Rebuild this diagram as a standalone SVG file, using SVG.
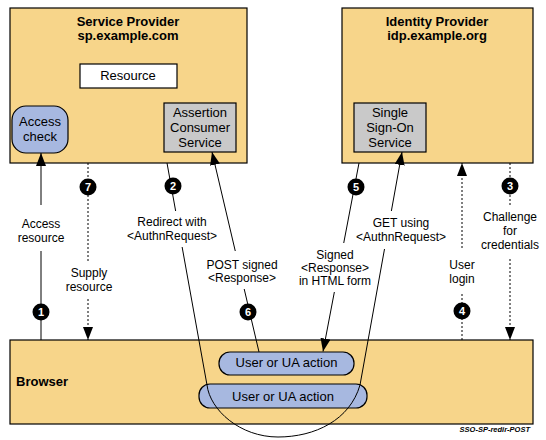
<svg xmlns="http://www.w3.org/2000/svg" width="546" height="440" viewBox="0 0 546 440">
<style>
text{font-family:"Liberation Sans",Arial,sans-serif;fill:#000}
.box{fill:#f7d58a;stroke:#000;stroke-width:1.2}
.blue{fill:#a7b8e0;stroke:#000;stroke-width:1.2}
.gray{fill:#c9c9c9;stroke:#000;stroke-width:1.2}
.white{fill:#fff;stroke:#000;stroke-width:1.2}
.t{font-size:13px;text-anchor:middle}
.title{font-size:13px;font-weight:bold;text-anchor:middle}
.lbl{font-size:12px;text-anchor:middle}
.bg{fill:#fff}
.ln{fill:none;stroke:#000;stroke-width:1}
.dot{fill:none;stroke:#000;stroke-width:1;stroke-dasharray:2,2}
.num circle{fill:#000}
.num text{font-size:11px;font-weight:bold;fill:#fff;text-anchor:middle}
</style>
<defs>
<marker id="ah" viewBox="0 0 13 10" refX="13" refY="5" markerWidth="13" markerHeight="10" markerUnits="userSpaceOnUse" orient="auto">
<path d="M0,0 L13,5 L0,10 z" fill="#000"/>
</marker>
</defs>
<rect width="546" height="440" fill="#fff"/>

<g id="sp">
<rect class="box" x="10" y="8" width="237" height="155"/>
<text class="title" x="128" y="26">Service Provider</text>
<text class="title" x="128" y="40">sp.example.com</text>
</g>
<g id="resource">
<rect class="white" x="80" y="64" width="97" height="24"/>
<text class="t" x="128" y="80">Resource</text>
</g>
<g id="access-check">
<rect class="blue" x="12" y="106" width="56" height="47" rx="14" ry="14"/>
<text class="t" x="40" y="126">Access</text>
<text class="t" x="40" y="141">check</text>
</g>
<g id="acs">
<rect class="gray" x="164" y="103" width="72" height="49"/>
<text class="t" x="200" y="117">Assertion</text>
<text class="t" x="200" y="132">Consumer</text>
<text class="t" x="200" y="147">Service</text>
</g>
<g id="idp">
<rect class="box" x="342" y="8" width="191" height="155"/>
<text class="title" x="437" y="26">Identity Provider</text>
<text class="title" x="437" y="40">idp.example.org</text>
</g>
<g id="sso">
<rect class="gray" x="354" y="103" width="72" height="49"/>
<text class="t" x="390" y="117">Single</text>
<text class="t" x="390" y="132">Sign-On</text>
<text class="t" x="390" y="147">Service</text>
</g>
<g id="browser">
<rect class="box" x="10" y="340" width="523" height="84"/>
<text x="16" y="386" style="font-size:13px;font-weight:bold">Browser</text>
</g>
<g id="ua-action-1">
<rect class="blue" x="219" y="352" width="135" height="23" rx="11" ry="11"/>
<text class="t" x="286.5" y="367">User or UA action</text>
</g>
<g id="ua-action-2">
<rect class="blue" x="199" y="384" width="168" height="24" rx="11" ry="11"/>
<text class="t" x="283" y="401">User or UA action</text>
</g>

<g id="connectors">
<line class="ln" x1="41" y1="340" x2="41" y2="153" marker-end="url(#ah)"/>
<line class="dot" x1="88" y1="163" x2="88" y2="340" marker-end="url(#ah)"/>
<path class="ln" d="M167,163 L207,385 C210,410 240,437 278,437 C315,437 350,420 360,385 L402,152" marker-end="url(#ah)"/>
<line class="dot" x1="510" y1="163" x2="510" y2="340" marker-end="url(#ah)"/>
<line class="dot" x1="462" y1="340" x2="462" y2="163" marker-end="url(#ah)"/>
<line class="ln" x1="359" y1="163" x2="323" y2="351.5" marker-end="url(#ah)"/>
<line class="ln" x1="259" y1="352" x2="212" y2="152" marker-end="url(#ah)"/>

<g id="label-1">
<rect class="bg" x="15" y="205" width="52" height="46"/>
<text class="lbl" x="41" y="228">Access</text>
<text class="lbl" x="41" y="242">resource</text>
</g>
<g id="label-7">
<rect class="bg" x="60" y="261" width="58" height="36"/>
<text class="lbl" x="89" y="277">Supply</text>
<text class="lbl" x="89" y="291">resource</text>
</g>
<g id="label-2">
<rect class="bg" x="124" y="211" width="98" height="36"/>
<text class="lbl" x="172" y="226">Redirect with</text>
<text class="lbl" x="172" y="240">&lt;AuthnRequest&gt;</text>
</g>
<g id="label-get">
<rect class="bg" x="353" y="211" width="97" height="38"/>
<text class="lbl" x="401" y="227">GET using</text>
<text class="lbl" x="401" y="241">&lt;AuthnRequest&gt;</text>
</g>
<g id="label-3">
<rect class="bg" x="478" y="206" width="64" height="51"/>
<text class="lbl" x="510" y="221">Challenge</text>
<text class="lbl" x="510" y="235">for</text>
<text class="lbl" x="510" y="249">credentials</text>
</g>
<g id="label-4">
<rect class="bg" x="440" y="249" width="44" height="43"/>
<text class="lbl" x="462" y="269">User</text>
<text class="lbl" x="462" y="283">login</text>
</g>
<g id="label-5">
<rect class="bg" x="294" y="243" width="82" height="49"/>
<text class="lbl" x="335" y="259">Signed</text>
<text class="lbl" x="335" y="272">&lt;Response&gt;</text>
<text class="lbl" x="335" y="285">in HTML form</text>
</g>
<g id="label-6">
<rect class="bg" x="201" y="251" width="82" height="38"/>
<text class="lbl" x="242" y="269">POST signed</text>
<text class="lbl" x="242" y="282">&lt;Response&gt;</text>
</g>

<g class="num">
<circle cx="41" cy="312" r="8.5"/><text x="41" y="316">1</text>
<circle cx="173" cy="186" r="8.5"/><text x="173" y="190">2</text>
<circle cx="510" cy="186" r="8.5"/><text x="510" y="190">3</text>
<circle cx="462" cy="311" r="8.5"/><text x="462" y="315">4</text>
<circle cx="356" cy="187" r="8.5"/><text x="356" y="191">5</text>
<circle cx="248" cy="312" r="8.5"/><text x="248" y="316">6</text>
<circle cx="88" cy="187" r="8.5"/><text x="88" y="191">7</text>
</g>
</g>

<text x="530" y="432" style="font-size:7.5px;font-weight:bold;font-style:italic;text-anchor:end">SSO-SP-redir-POST</text>
</svg>
